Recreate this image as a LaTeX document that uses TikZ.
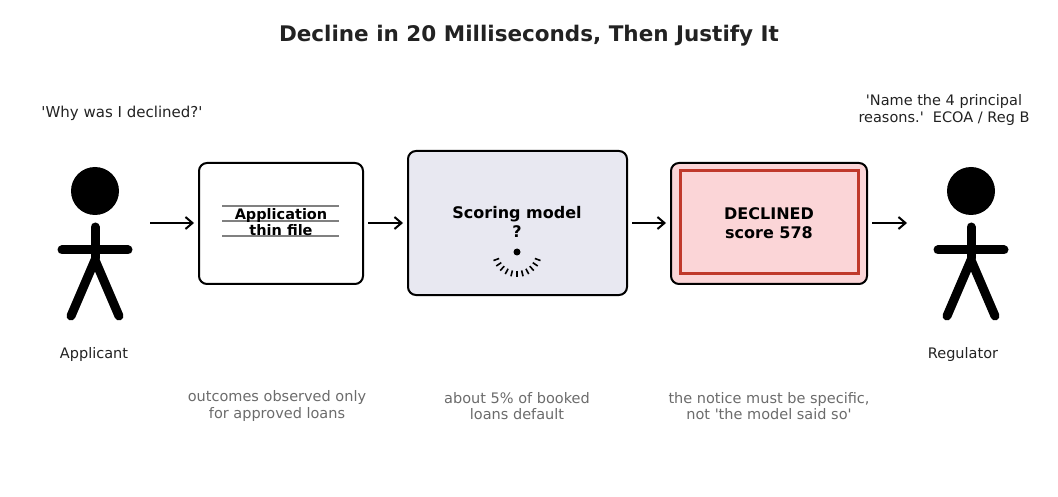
\documentclass[tikz,border=0pt]{standalone}
\usepackage{fontspec}
\setmainfont{DejaVu Sans}
\usetikzlibrary{arrows.meta}
\definecolor{ink}{HTML}{222222}
\definecolor{note}{HTML}{6B6B6B}
\definecolor{modelbg}{HTML}{E8E8F1}
\definecolor{denybg}{HTML}{FBD5D7}
\definecolor{denyred}{HTML}{C0392B}
\newcommand{\q}{\textquotesingle}
\tikzset{
  box/.style={draw, line width=2pt, rounded corners=8pt},
  flow/.style={-{Straight Barb[length=7pt, width=12pt, line width=2pt]}, line width=2pt},
  stick/.style={line width=9pt, line cap=round, line join=round},
  notetext/.style={text=note, font=\fontsize{14.5}{16.5}\selectfont, align=center},
}
\begin{document}
\begin{tikzpicture}[x=1pt, y=-1pt]
	\useasboundingbox (0,0) rectangle (1058,497);
	
	\node[font=\fontsize{21.5}{25}\selectfont\bfseries, text=ink] (title) at (529,36) {Decline in 20 Milliseconds, Then Justify It};
	
	% stick figures
	\foreach \x in {95,971} {
		\fill (\x,191) circle (24);
		\draw[stick] (\x,227) -- (\x,258);
		\draw[stick] (\x-33,250) -- (\x+33,250);
		\draw[stick] (\x-24,316) -- (\x,260) -- (\x+24,316);
	}
	\node[text=ink, font=\fontsize{14.5}{17}\selectfont] (applicant) at (94,354) {Applicant};
	\node[text=ink, font=\fontsize{14.5}{17}\selectfont] (regulator) at (963,354) {Regulator};
	\node[text=ink, font=\fontsize{15}{17}\selectfont] (ask) at (122,113) {\q Why was I declined?\q};
	\node[text=ink, font=\fontsize{14.5}{16.5}\selectfont, align=center] (demand) at (944,110) {\q Name the 4 principal\\reasons.\q\ \ ECOA / Reg B};
	
	% boxes
	\draw[box, fill=white] (199,163) rectangle (363,284);
	\draw[gray, line width=1.5pt] (222,206) -- (339,206);
	\draw[gray, line width=1.5pt] (222,221) -- (339,221);
	\draw[gray, line width=1.5pt] (222,236) -- (339,236);
	\node[font=\fontsize{14.5}{16.5}\selectfont\bfseries, align=center] (app) at (281,222) {Application\\thin file};
	
	\draw[box, fill=modelbg] (408,151) rectangle (627,295);
	\node[font=\fontsize{16}{19}\selectfont\bfseries, align=center] (model) at (517,222) {Scoring model\\?};
	\fill (517,252) circle (3.5);
	\foreach \a in {20,34,...,160}
		\draw[line width=1.6pt, shift={(517,252)}] (\a:19) -- (\a:25);
	
	\draw[box, fill=denybg] (671,163) rectangle (867,284);
	\draw[denyred, line width=3pt] (680,171) rectangle (858,274);
	\node[font=\fontsize{16}{19}\selectfont\bfseries, align=center] (deny) at (769,223) {DECLINED\\score 578};
	
	\coordinate (a1) at (150,223); \coordinate (a2) at (194,223);
	\coordinate (b1) at (368,223); \coordinate (b2) at (403,223);
	\coordinate (c1) at (632,223); \coordinate (c2) at (666,223);
	\coordinate (d1) at (872,223); \coordinate (d2) at (907,223);
	\draw[flow] (a1) -- (a2);
	\draw[flow] (b1) -- (b2);
	\draw[flow] (c1) -- (c2);
	\draw[flow] (d1) -- (d2);
	
	% notes
	\node[notetext] (n1) at (277,406) {outcomes observed only\\for approved loans};
	\node[notetext] (n2) at (517,406) {about 5\% of booked\\loans default};
	\node[notetext] (n3) at (769,406) {the notice must be specific,\\not \q the model said so\q};
\end{tikzpicture}
\end{document}
